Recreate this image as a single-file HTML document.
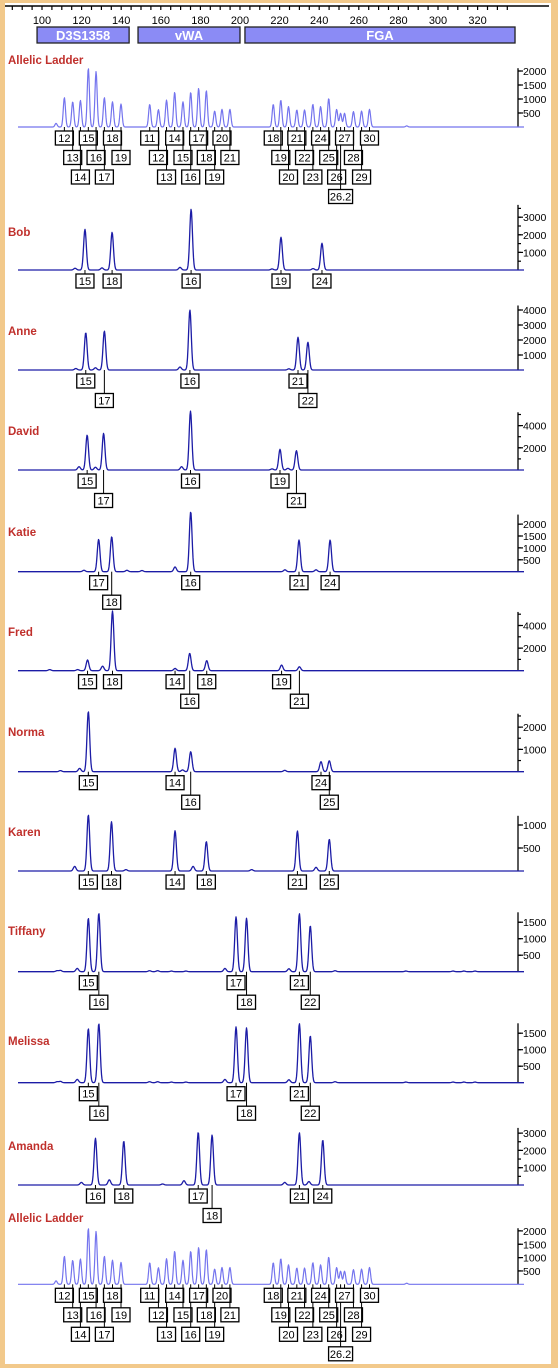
<!DOCTYPE html>
<html><head><meta charset="utf-8">
<style>
html,body{margin:0;padding:0;background:#f2c98b;}
svg{display:block;font-family:"Liberation Sans",sans-serif;}
</style></head>
<body>
<svg id="chart" width="558" height="1368" viewBox="0 0 558 1368" xmlns="http://www.w3.org/2000/svg">
<rect x="5" y="3" width="546" height="1361" fill="#ffffff"/>
<g id="ruler"></g>
<g id="loci"></g>
<g id="panels"></g>
</svg>
<script>
// ---- data ----
const rulerLabels=[100,120,140,160,180,200,220,240,260,280,300,320];
const lociNames=["D3S1358","vWA","FGA"];
const lociStart=[97.5,148.5,202.5];
const lociEnd=[144,200,338.9];

const ladderSizes=[107.1,111.3,115.5,119.4,123.4,127.3,131.5,135.6,139.9,154.4,158.8,162.9,167.0,171.2,175.1,179.1,183.0,187.2,190.9,194.9,216.8,220.6,224.5,228.7,232.6,236.8,240.7,244.8,248.8,250.8,252.8,257.3,261.4,265.4,284.2];
const ladderHeights=[130,1050,900,950,2100,1980,1050,900,820,810,620,960,1240,900,1240,1380,1300,570,630,630,810,960,730,610,610,810,730,1020,630,490,490,550,570,630,40];
const ladderAlleles=[null,"12","13","14","15","16","17","18","19","11","12","13","14","15","16","17","18","19","20","21","18","19","20","21","22","23","24","25","26","26.2","27","28","29","30",null];
const ladderRows=[0,0,1,2,0,1,2,0,1,0,1,2,0,1,2,0,1,2,0,1,0,1,2,0,1,2,0,1,2,3,0,1,2,0,0];

const bobSizes=[116.7,121.7,130.3,135.4,169.7,175.3,216.2,220.7,236.9,241.4];
const bobHeights=[100,2310,120,2140,150,3450,60,1860,80,1520];
const bobAlleles=[null,"15",null,"18",null,"16",null,"19",null,"24"];
const bobRows=[0,0,0,0,0,0,0,0,0,0];

const anneSizes=[117.1,122.1,127.0,131.5,169.7,174.7,224.7,229.3,234.3];
const anneHeights=[100,2490,150,2600,200,4000,80,2180,1850];
const anneAlleles=[null,"15",null,"17",null,"16",null,"21","22"];
const anneRows=[0,0,0,1,0,0,0,0,1];

const davidSizes=[118.7,122.8,127.0,131.1,170.5,175.0,216.2,220.2,224.2,228.5];
const davidHeights=[300,3150,250,3300,300,5300,100,1860,150,1740];
const davidAlleles=[null,"15",null,"17",null,"16",null,"19",null,"21"];
const davidRows=[0,0,0,1,0,0,0,0,0,1];

const katieSizes=[121.2,128.6,135.2,142.9,150.5,167.2,175.1,222.7,229.8,238.4,245.5];
const katieHeights=[60,1360,1470,60,50,200,2520,80,1330,80,1330];
const katieAlleles=[null,"17","18",null,null,null,"16",null,"21",null,"24"];
const katieRows=[0,0,1,0,0,0,0,0,0,0,0];

const fredSizes=[103.9,118.0,123.0,130.6,135.6,167.2,174.6,183.2,221.0,230.0];
const fredHeights=[100,100,950,400,5280,200,1540,890,500,350];
const fredAlleles=[null,null,"15",null,"18","14","16","18","19","21"];
const fredRows=[0,0,0,0,0,0,1,0,0,1];

const normaSizes=[109.3,119.0,123.4,167.2,171.0,175.1,222.6,240.9,245.1];
const normaHeights=[50,150,2700,1050,80,900,60,450,490];
const normaAlleles=[null,null,"15","14",null,"16",null,"24","25"];
const normaRows=[0,0,0,0,0,1,0,0,1];

const karenSizes=[116.5,123.4,135.1,142.4,167.2,176.3,183.0,205.9,229.0,238.4,245.1];
const karenHeights=[100,1220,1070,30,875,100,640,30,870,80,690];
const karenAlleles=[null,"15","18",null,"14",null,"18",null,"21",null,"25"];
const karenRows=[0,0,0,0,0,0,0,0,0,0,0];

const tiffanySizes=[107.6,109.3,117.8,123.4,128.7,154.3,158.4,165.4,172.7,192.4,198.0,203.3,224.7,230.0,235.5,248.0,283.8,307.6,313.1,318.7];
const tiffanyHeights=[30,40,100,1620,1770,30,30,20,20,100,1660,1620,90,1760,1390,30,20,20,20,20];
const tiffanyAlleles=[null,null,null,"15","16",null,null,null,null,null,"17","18",null,"21","22",null,null,null,null,null];
const tiffanyRows=[0,0,0,0,1,0,0,0,0,0,0,1,0,0,1,0,0,0,0,0];

const melissaSizes=[107.6,109.3,117.8,123.4,128.7,154.3,158.4,165.4,172.7,192.4,198.0,203.3,224.7,230.0,235.5,248.0,283.8,307.6,313.1,318.7];
const melissaHeights=[30,40,100,1640,1790,30,30,20,20,100,1690,1660,90,1790,1420,30,20,20,20,20];
const melissaAlleles=[null,null,null,"15","16",null,null,null,null,null,"17","18",null,"21","22",null,null,null,null,null];
const melissaRows=[0,0,0,0,1,0,0,0,0,0,0,1,0,0,1,0,0,0,0,0];

const amandaSizes=[119.9,127.0,134.0,141.3,160.9,171.7,178.9,185.9,222.6,230.0,234.8,241.8];
const amandaHeights=[150,2700,300,2540,60,250,3050,2890,150,3020,200,2600];
const amandaAlleles=[null,"16",null,"18",null,null,"17","18",null,"21",null,"24"];
const amandaRows=[0,0,0,0,0,0,0,1,0,0,0,0];

const panelNames=["Allelic Ladder","Bob","Anne","David","Katie","Fred","Norma","Karen","Tiffany","Melissa","Amanda","Allelic Ladder"];
const panelTicks=[[500,1000,1500,2000],[1000,2000,3000],[1000,2000,3000,4000],[2000,4000],[500,1000,1500,2000],[2000,4000],[1000,2000],[500,1000],[500,1000,1500],[500,1000,1500],[1000,2000,3000],[500,1000,1500,2000]];
const panelMinor=[500,500,1000,1000,500,1000,500,500,500,500,500,500];
const panelMax=[2100,3700,4300,5200,2400,5200,2600,1200,1800,1800,3300,2100];

// ---- layout (not data) ----
const layout=[
 {base:127,k:28,name:60},{base:270,k:17.6,name:232},{base:370,k:15,name:331},
 {base:470,k:11.1,name:431},{base:571.7,k:23.8,name:532},{base:670.7,k:11.3,name:632},
 {base:771.7,k:22.3,name:732},{base:871,k:46,name:832},{base:971.7,k:33,name:931},
 {base:1082.7,k:33,name:1041},{base:1185,k:17.3,name:1146},{base:1284.3,k:26.7,name:1218}];
const panelData=[
 [ladderSizes,ladderHeights,ladderAlleles,ladderRows,true],
 [bobSizes,bobHeights,bobAlleles,bobRows],
 [anneSizes,anneHeights,anneAlleles,anneRows],
 [davidSizes,davidHeights,davidAlleles,davidRows],
 [katieSizes,katieHeights,katieAlleles,katieRows],
 [fredSizes,fredHeights,fredAlleles,fredRows],
 [normaSizes,normaHeights,normaAlleles,normaRows],
 [karenSizes,karenHeights,karenAlleles,karenRows],
 [tiffanySizes,tiffanyHeights,tiffanyAlleles,tiffanyRows],
 [melissaSizes,melissaHeights,melissaAlleles,melissaRows],
 [amandaSizes,amandaHeights,amandaAlleles,amandaRows],
 [ladderSizes,ladderHeights,ladderAlleles,ladderRows,true]];

const NS="http://www.w3.org/2000/svg";
function xs(bp){return 42+(bp-100)*1.98;}
function mk(tag,attrs,parent){const e=document.createElementNS(NS,tag);for(const a in attrs)e.setAttribute(a,attrs[a]);parent.appendChild(e);return e;}

// ruler
const ruler=document.getElementById('ruler');
const rl=mk('line',{x1:5,y1:6,x2:549,y2:6,stroke:'#000','stroke-width':1.6},ruler);


for(let bp=85;bp<=335;bp+=5){
  const t=mk('line',{x1:xs(bp),y1:6,x2:xs(bp),y2:10,stroke:'#000','stroke-width':1.2},ruler);
  
  
}
rulerLabels.forEach(v=>{
  const t=mk('text',{x:xs(v),y:24,'text-anchor':'middle','font-size':11,fill:'#000'},ruler);
  t.textContent=v;
  
  
});
// loci
const loci=document.getElementById('loci');
lociNames.forEach((n,i)=>{
  const r=mk('rect',{x:xs(lociStart[i]),y:27,width:xs(lociEnd[i])-xs(lociStart[i]),height:16,fill:'#8b8bf5',stroke:'#222','stroke-width':1.3},loci);
  
  
  const t=mk('text',{x:(xs(lociStart[i])+xs(lociEnd[i]))/2,y:40,'text-anchor':'middle','font-size':13,'font-weight':'bold',fill:'#fff'},loci);
  t.textContent=n;
  
  
});

// panels
const panels=document.getElementById('panels');
panelNames.forEach((name,p)=>{
  const L=layout[p];const [sz,ht,al,rw,isLadder]=panelData[p];
  const g=mk('g',{},panels);
  
  
  const nt=mk('text',{x:8,y:L.name+4,'font-size':11.5,'font-weight':'bold',fill:'#c0302c'},g);
  nt.textContent=name;
  
  
  const yv=v=>L.base-v/1000*L.k;
  const ax=mk('line',{x1:518,y1:yv(panelMax[p]),x2:518,y2:L.base,stroke:'#000','stroke-width':1.3},g);
  
  
  for(let v=panelMinor[p];v<=panelMax[p];v+=panelMinor[p]){
    const tk=mk('line',{x1:518,y1:yv(v),x2:521,y2:yv(v),stroke:'#000','stroke-width':1.2},g);
    
    
  }
  panelTicks[p].forEach(v=>{
    const tk=mk('line',{x1:518,y1:yv(v),x2:523,y2:yv(v),stroke:'#000','stroke-width':1.2},g);
    
    
    const tl=mk('text',{x:523,y:yv(v)+4,'font-size':10.5,fill:'#000'},g);
    tl.textContent=v;
    
    
  });
  const sig=isLadder?1.1:1.35;
  let d='';
  for(let x=18;x<=524;x+=0.5){
    let s=0;
    if(x<518){for(let i=0;i<sz.length;i++){const dx=x-xs(sz[i]);if(Math.abs(dx)<8)s+=ht[i]*Math.exp(-dx*dx/(2*sig*sig));}}
    d+=(d?'L':'M')+x.toFixed(1)+','+(L.base-s/1000*L.k).toFixed(2);
  }
  const tr=mk('path',{d:d,fill:'none',stroke:isLadder?'#7474ee':'#1c1ca6','stroke-width':isLadder?1.2:1.3,'stroke-linejoin':'round'},g);
  
  
  for(let i=0;i<sz.length;i++){
    if(!al[i])continue;
    const cx=xs(sz[i]);const top=L.base+4+rw[i]*19.5;const w=al[i].length>2?24:18;
    const ld=mk('line',{x1:cx,y1:L.base,x2:cx,y2:top,stroke:'#000','stroke-width':1},g);
    
    
    const bx=mk('rect',{x:cx-w/2,y:top,width:w,height:14,fill:'#fff',stroke:'#000','stroke-width':1.3},g);
    
    
    const bt=mk('text',{x:cx,y:top+11,'text-anchor':'middle','font-size':11,fill:'#000'},g);
    bt.textContent=al[i];
    
    
  }
});
</script>
</body></html>
